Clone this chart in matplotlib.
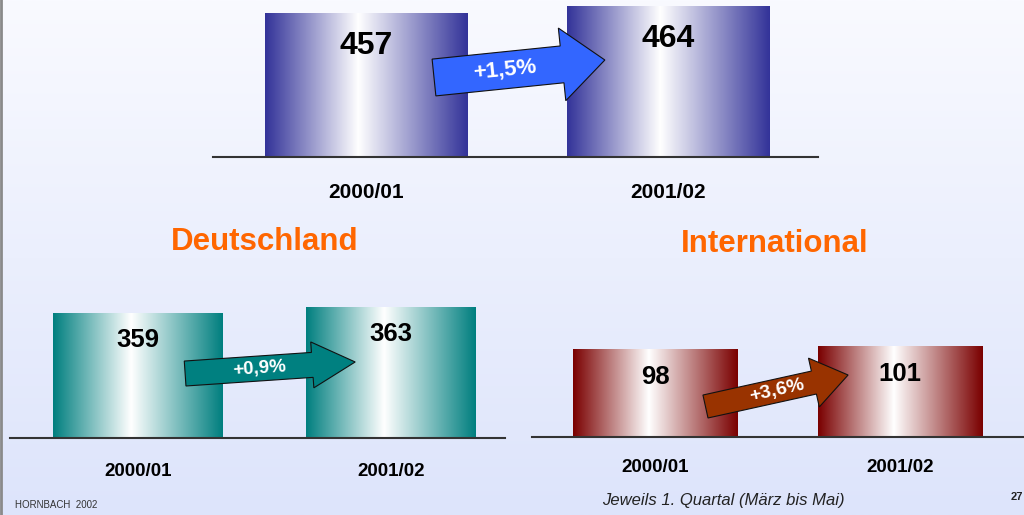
"""Hornbach sales per quarter: group total, Deutschland and International."""

import matplotlib

matplotlib.use("Agg")
import matplotlib.pyplot as plt
import numpy as np
from matplotlib.colors import LinearSegmentedColormap
from matplotlib.patches import Polygon
from matplotlib.transforms import IdentityTransform

plt.rcParams["font.family"] = ["Liberation Sans", "DejaVu Sans"]

# --- Data ---
periods = ["2000/01", "2001/02"]
total_sales = [457, 464]
germany_sales = [359, 363]
international_sales = [98, 101]
growth_labels = ["+1,5%", "+0,9%", "+3,6%"]
panel_titles = ["Deutschland", "International"]
footnote = "Jeweils 1. Quartal (März bis Mai)"

DPI = 100
fig = plt.figure(figsize=(10.24, 5.15), dpi=DPI)

# --- Background gradient ---
bg_ax = fig.add_axes([0, 0, 1, 1], zorder=-10)
bg_cmap = LinearSegmentedColormap.from_list("bg", ["#dde4fb", "#f9faff"])
bg_ax.imshow(np.linspace(0, 1, 256)[:, None], cmap=bg_cmap, aspect="auto",
             origin="lower", extent=[0, 1, 0, 1])
bg_ax.plot([0.001, 0.001], [0, 1], color="#8a8a8a", linewidth=2)
bg_ax.set_xlim(0, 1)
bg_ax.set_ylim(0, 1)
bg_ax.axis("off")


def bar_cmap(dark):
    return LinearSegmentedColormap.from_list(
        "bar", [(0.0, dark), (0.46, "#ffffff"), (1.0, dark)])


def block_arrow(ax, start, end, shaft_w, head_w, head_len, color, label, fsize, frac):
    """Draw a block arrow between two data points, widths given in pixels."""
    p0 = ax.transData.transform(start)
    p1 = ax.transData.transform(end)
    d = p1 - p0
    u = d / np.hypot(*d)
    n = np.array([-u[1], u[0]])
    h = p1 - u * head_len
    pts = [p0 + n * shaft_w / 2, h + n * shaft_w / 2, h + n * head_w / 2, p1,
           h - n * head_w / 2, h - n * shaft_w / 2, p0 - n * shaft_w / 2]
    poly = Polygon(pts, closed=True, facecolor=color, edgecolor="#111111",
                   linewidth=0.8, transform=IdentityTransform(), zorder=5)
    fig.add_artist(poly)
    mid = p0 + d * frac
    angle = np.degrees(np.arctan2(d[1], d[0]))
    fig.text(mid[0] / fig.bbox.width, mid[1] / fig.bbox.height, label,
             color="white", fontsize=fsize, fontweight="bold", ha="center",
             va="center", rotation=angle, rotation_mode="anchor", zorder=6)


def panel(rect, values, ylim, xlim, dark, value_size, value_off, cat_size, cat_off, arrow):
    ax = fig.add_axes(rect)
    ax.patch.set_alpha(0)
    x = np.arange(len(values))
    width = 0.67
    bars = ax.bar(x, np.array(values) - ylim[0], bottom=ylim[0], width=width,
                  color="none", edgecolor="none")
    grad = np.linspace(0, 1, 256)[None, :]
    for bar in bars:
        im = ax.imshow(grad, cmap=bar_cmap(dark), aspect="auto", zorder=2,
                       extent=[bar.get_x(), bar.get_x() + bar.get_width(),
                               bar.get_y(), bar.get_y() + bar.get_height()])
        im.set_clip_path(bar)
    for xi, v, p in zip(x, values, periods):
        ax.annotate(str(v), (xi, v), xytext=(0, value_off), textcoords="offset pixels",
                    ha="center", va="center", fontsize=value_size,
                    fontweight="bold", color="black", zorder=4)
        ax.annotate(p, (xi, ylim[0]), xytext=(0, cat_off), textcoords="offset pixels",
                    ha="center", va="center", fontsize=cat_size,
                    fontweight="bold", color="black", annotation_clip=False)
    ax.set_xlim(*xlim)
    ax.set_ylim(*ylim)
    for side in ["top", "left", "right"]:
        ax.spines[side].set_visible(False)
    ax.spines["bottom"].set_color("#333333")
    ax.spines["bottom"].set_linewidth(1.5)
    ax.spines["bottom"].set_zorder(3)
    ax.set_xticks([])
    ax.set_yticks([])
    block_arrow(ax, arrow["start"], arrow["end"], arrow["sw"], arrow["hw"],
                arrow["hl"], arrow["color"], arrow["label"], arrow["fs"], arrow["frac"])
    return ax


panel([213 / 1024, 358 / 515, 605 / 1024, 157 / 515], total_sales, (313, 470),
      (-0.507, 1.497), "#333399", 23, -33, 15, -36,
      dict(start=(0.225, 392.5), end=(0.791, 410), sw=37, hw=73, hl=43,
           color="#3366ff", label=growth_labels[0], fs=16, frac=0.415))
panel([10 / 1024, 77 / 515, 495 / 1024, 148 / 515], germany_sales, (275.7, 374.4),
      (-0.506, 1.45), "#007f7f", 18.5, -27, 13.5, -33,
      dict(start=(0.186, 318.7), end=(0.858, 326.4), sw=25, hw=46, hl=43,
           color="#008080", label=growth_labels[1], fs=13.5, frac=0.44))
panel([532 / 1024, 78 / 515, 492 / 1024, 107 / 515], international_sales, (10, 117),
      (-0.502, 1.506), "#7a0000", 18.5, -28, 13.5, -31,
      dict(start=(0.206, 40.5), end=(0.788, 72), sw=23.5, hw=50, hl=35,
           color="#993300", label=growth_labels[2], fs=14, frac=0.5))

# --- Titles and footer ---
fig.text(265 / 1024, 1 - 242 / 515, panel_titles[0], color="#ff6600",
         fontsize=22.5, fontweight="bold", ha="center", va="center")
fig.text(775 / 1024, 1 - 244 / 515, panel_titles[1], color="#ff6600",
         fontsize=22.5, fontweight="bold", ha="center", va="center")
fig.text(15 / 1024, 1 - 505 / 515, "HORNBACH  2002", color="#333333",
         fontsize=7, ha="left", va="center")
fig.text(723 / 1024, 1 - 500 / 515, footnote, color="#222222", fontsize=12,
         style="italic", ha="center", va="center")
fig.text(1011 / 1024, 1 - 497 / 515, "27", color="#222222", fontsize=8,
         fontweight="bold", ha="left", va="center")

fig.savefig("out.png", dpi=DPI)
